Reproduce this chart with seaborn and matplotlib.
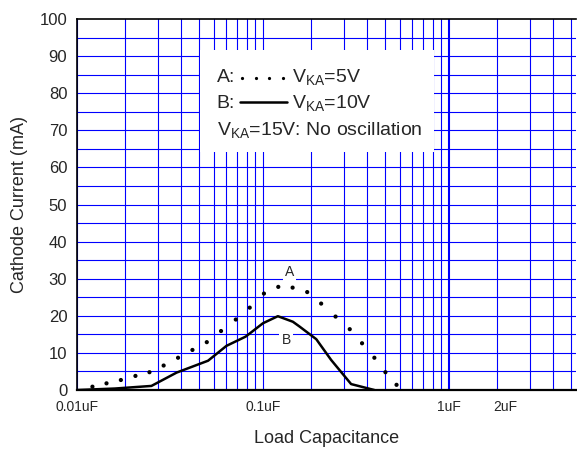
import matplotlib
matplotlib.use("Agg")
import matplotlib.pyplot as plt
import numpy as np
import pandas as pd
import seaborn as sns
from matplotlib.patches import Rectangle
from matplotlib.lines import Line2D

# ---- data ----
cap_a = [0.0121, 0.0144, 0.0172, 0.0206, 0.0245, 0.0292, 0.0349, 0.0417, 0.0498,
         0.0594, 0.0713, 0.0847, 0.101, 0.1206, 0.144, 0.1725, 0.205, 0.245,
         0.292, 0.340, 0.396, 0.454, 0.521]
cur_a = [0.9, 1.8, 2.7, 3.8, 4.8, 6.6, 8.7, 10.8, 12.9, 15.9, 19.0, 22.2, 26.0,
         27.8, 27.6, 26.4, 23.3, 19.8, 16.4, 12.6, 8.7, 4.8, 1.4]

cap_b = [0.01, 0.016, 0.0251, 0.0343, 0.0506, 0.0635, 0.0806, 0.0998, 0.120,
         0.1445, 0.157, 0.193, 0.232, 0.297, 0.396]
cur_b = [0.0, 0.4, 1.1, 4.7, 7.9, 11.9, 14.4, 18.0, 19.9, 18.4, 17.1, 13.7, 8.1,
         1.6, 0.0]

x_ticks = [0.01, 0.1, 1, 2]
x_tick_labels = ["0.01uF", "0.1uF", "1uF", "2uF"]
y_ticks = list(range(0, 101, 10))

# ---- style ----
sns.set_style("white")
plt.rcParams["font.family"] = ["Liberation Sans", "DejaVu Sans"]
plt.rcParams["mathtext.fontset"] = "custom"
plt.rcParams["mathtext.rm"] = "Liberation Sans"
plt.rcParams["mathtext.it"] = "Liberation Sans:italic"
plt.rcParams["mathtext.bf"] = "Liberation Sans:bold"

BLUE = "#0000ff"
GRID_SHIFT = 0.906   # minor grid of the original is offset slightly left
XMAX = 4.8

fig = plt.figure(figsize=(5.77, 4.5), dpi=100)
ax = fig.add_axes([0.1335, 0.1333, 0.8648, 0.8244])
ax.set_xscale("log")
ax.set_xlim(0.01, XMAX)
ax.set_ylim(0, 100)

# grid
decades = [0.01, 0.1, 1]
for d in decades:
    ax.axvline(d, color=BLUE, lw=1.5 if d == 1 else 0.8, zorder=0.5)
    for k in range(2, 11):
        xv = k * d * GRID_SHIFT
        if xv < XMAX:
            ax.axvline(xv, color=BLUE, lw=0.8, zorder=0.5)
for yv in range(5, 100, 5):
    ax.axhline(yv, color=BLUE, lw=0.8, zorder=0.5)

# curves
df_a = pd.DataFrame({"cap": cap_a, "cur": cur_a})
df_b = pd.DataFrame({"cap": cap_b, "cur": cur_b})
sns.scatterplot(data=df_a, x="cap", y="cur", ax=ax, color="black", s=9,
                edgecolor="none", linewidth=0, zorder=3)
sns.lineplot(data=df_b, x="cap", y="cur", ax=ax, color="black", lw=1.8,
             zorder=3, sort=False)

# curve labels
lab_box = dict(fc="white", ec="none", pad=1.5)
ax.text(0.139, 31.9, "A", ha="center", va="center", fontsize=10, bbox=lab_box, zorder=2)
ax.text(0.133, 13.5, "B", ha="center", va="center", fontsize=10, bbox=lab_box, zorder=2)

# legend box
ax.add_patch(Rectangle((0.2465, 0.6415), 0.4689, 0.2749, transform=ax.transAxes,
                       fc="white", ec="none", zorder=1))
fs = 14
ax.text(0.280, 0.830, "A:", transform=ax.transAxes, fontsize=fs, va="baseline", zorder=4)
ax.add_line(Line2D(np.linspace(0.330, 0.413, 4), [0.840] * 4, transform=ax.transAxes,
                   ls="none", marker="o", ms=2.3, color="black", mew=0, zorder=4))
ax.text(0.430, 0.830, r"V$_{\mathrm{KA}}$=5V", transform=ax.transAxes, fontsize=fs,
        va="baseline", zorder=4)
ax.text(0.280, 0.759, "B:", transform=ax.transAxes, fontsize=fs, va="baseline", zorder=4)
ax.add_line(Line2D([0.3267, 0.420], [0.777, 0.777], transform=ax.transAxes,
                   color="black", lw=1.8, zorder=4))
ax.text(0.430, 0.759, r"V$_{\mathrm{KA}}$=10V", transform=ax.transAxes, fontsize=fs,
        va="baseline", zorder=4)
ax.text(0.280, 0.687, r"V$_{\mathrm{KA}}$=15V: No oscillation", transform=ax.transAxes,
        fontsize=fs, va="baseline", zorder=4)

# axes / ticks
ax.set_xticks(x_ticks)
ax.set_xticklabels(x_tick_labels)
ax.xaxis.set_minor_locator(matplotlib.ticker.NullLocator())
ax.set_yticks(y_ticks)
ax.tick_params(axis="x", length=0, labelsize=10, pad=7)
ax.tick_params(axis="y", length=0, labelsize=12, pad=7)
for side in ["left", "top"]:
    ax.spines[side].set_color("black")
    ax.spines[side].set_linewidth(1.2)
ax.spines["bottom"].set_color("black")
ax.spines["bottom"].set_linewidth(1.6)
ax.spines["right"].set_visible(False)
for s in ax.spines.values():
    s.set_zorder(5)

ax.set_xlabel("Load Capacitance", fontsize=13, labelpad=12)
ax.set_ylabel("Cathode Current (mA)", fontsize=13, labelpad=8)

fig.savefig("out.png", dpi=100)
